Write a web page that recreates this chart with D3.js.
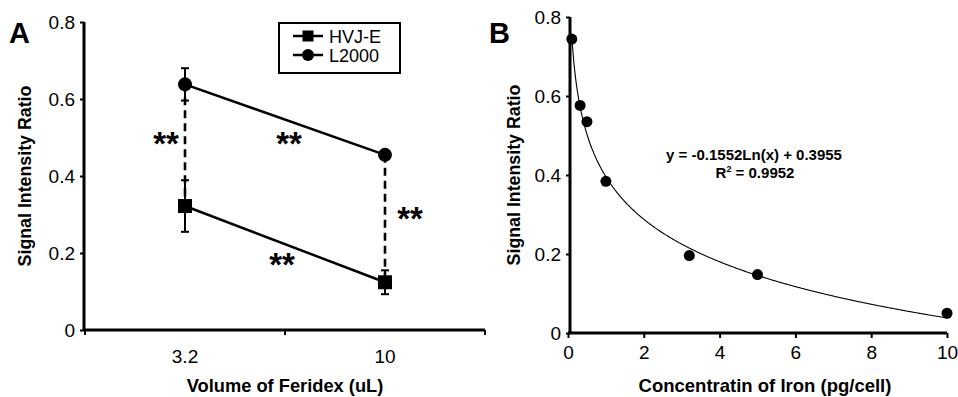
<!DOCTYPE html>
<html><head><meta charset="utf-8">
<script src="https://cdn.jsdelivr.net/npm/d3@7"></script>
<style>body{margin:0;background:#fff}svg{display:block;font-family:"Liberation Sans",Arial,sans-serif}</style>
</head><body>
<svg id="c" width="958" height="397"></svg>
<script>
// Panel A data
const categoriesA = ["3.2", "10"];
const hvje = [0.322, 0.124];
const hvjeErr = [0.067, 0.031];
const l2000 = [0.638, 0.455];
const l2000Err = [0.042, 0.008];
const yTicksA = [0, 0.2, 0.4, 0.6, 0.8];
// Panel B data
const ironX = [0.1, 0.32, 0.5, 1, 3.2, 5, 10];
const ironY = [0.744, 0.576, 0.535, 0.384, 0.196, 0.148, 0.050];
const xTicksB = [0, 2, 4, 6, 8, 10];
const yTicksB = [0, 0.2, 0.4, 0.6, 0.8];
const fitCoef = [-0.1552, 0.3955];

const svg = d3.select("#c");
const TICKFS = 19;

// ---------- Panel A ----------
const xA = d3.scaleBand().domain(categoriesA).range([85, 485]);
const cx = c => xA(c) + xA.bandwidth() / 2;
const yA = d3.scaleLinear().domain([0, 0.8]).range([330, 22]);
const gA = svg.append("g");

function drawAxes(g, y, yT, xLine) {
  const ya = g.append("g").attr("transform", `translate(${xLine},0)`)
    .call(d3.axisLeft(y).tickValues(yT).tickSize(4).tickPadding(5).tickFormat(d => d === 0 ? "0" : d3.format(".1f")(d)));
  ya.select(".domain").attr("d", `M0,${y(0.8)}V${y(0)}`).attr("stroke-width", 3);
  ya.selectAll(".tick line").attr("stroke-width", 2);
  ya.selectAll("text").attr("font-size", TICKFS).attr("fill", "#000").attr("font-family", "Liberation Sans, Arial");
  return ya;
}

drawAxes(gA, yA, yTicksA, 84);
const xaA = gA.append("g").attr("transform", `translate(0,${yA(0)})`)
  .call(d3.axisBottom(xA).tickSize(0).tickPadding(20));
xaA.select(".domain").attr("d", `M84,0H485`).attr("stroke-width", 3);
xaA.selectAll("text").attr("font-size", TICKFS).attr("fill", "#000").attr("font-family", "Liberation Sans, Arial");
// band boundary ticks
gA.append("g").selectAll("line").data([xA(categoriesA[0]), xA(categoriesA[1]), xA.range()[1]]).join("line")
  .attr("x1", d => d).attr("x2", d => d).attr("y1", yA(0)).attr("y2", yA(0) + 5)
  .attr("stroke", "#000").attr("stroke-width", 2);

// dashed connectors
gA.selectAll(".dash").data(categoriesA).join("line")
  .attr("x1", cx).attr("x2", cx)
  .attr("y1", (d, i) => yA(l2000[i])).attr("y2", (d, i) => yA(hvje[i]))
  .attr("stroke", "#000").attr("stroke-width", 2.6).attr("stroke-dasharray", "8,5");

const lineA = d3.line().x((d, i) => cx(categoriesA[i])).y(d => yA(d));
[hvje, l2000].forEach(s => {
  gA.append("path").attr("d", lineA(s)).attr("fill", "none").attr("stroke", "#000").attr("stroke-width", 2.5);
});
function errBars(vals, errs) {
  const g = gA.append("g").attr("stroke", "#000").attr("stroke-width", 2);
  categoriesA.forEach((c, i) => {
    const x = cx(c), t = yA(vals[i] + errs[i]), b = yA(vals[i] - errs[i]);
    g.append("line").attr("x1", x).attr("x2", x).attr("y1", t).attr("y2", b);
    g.append("line").attr("x1", x - 4).attr("x2", x + 4).attr("y1", t).attr("y2", t);
    g.append("line").attr("x1", x - 4).attr("x2", x + 4).attr("y1", b).attr("y2", b);
  });
}
errBars(hvje, hvjeErr);
errBars(l2000, l2000Err);
gA.selectAll(".sq").data(hvje).join("rect")
  .attr("x", (d, i) => cx(categoriesA[i]) - 7).attr("y", d => yA(d) - 7)
  .attr("width", 14).attr("height", 14).attr("fill", "#000");
gA.selectAll(".ci").data(l2000).join("circle")
  .attr("cx", (d, i) => cx(categoriesA[i])).attr("cy", d => yA(d)).attr("r", 7).attr("fill", "#000");

// significance stars
const stars = [
  { x: cx("3.2") - 19, v: 0.503 },
  { x: (cx("3.2") + cx("10")) / 2 + 4, v: 0.503 },
  { x: cx("10") + 25, v: 0.310 },
  { x: (cx("3.2") + cx("10")) / 2 - 3, v: 0.190 }
];
gA.selectAll(".star").data(stars).join("text")
  .attr("x", d => d.x).attr("y", d => yA(d.v) + 19)
  .attr("text-anchor", "middle").attr("font-size", 33).attr("font-weight", "bold").text("**");

// legend
const lg = gA.append("g");
lg.append("rect").attr("x", 279).attr("y", 23).attr("width", 121).attr("height", 50)
  .attr("fill", "#fff").attr("stroke", "#000").attr("stroke-width", 2);
const legItems = ["HVJ-E", "L2000"];
legItems.forEach((name, i) => {
  const yy = 36 + i * 19;
  lg.append("line").attr("x1", 293).attr("x2", 323).attr("y1", yy).attr("y2", yy).attr("stroke", "#000").attr("stroke-width", 2.5);
  if (i === 0) lg.append("rect").attr("x", 302.5).attr("y", yy - 5.5).attr("width", 11).attr("height", 11);
  else lg.append("circle").attr("cx", 308).attr("cy", yy).attr("r", 6);
  lg.append("text").attr("x", 329).attr("y", yy + 6.5).attr("font-size", 18).text(name);
});

// titles
gA.append("text").attr("transform", `translate(31,${(yA(0) + yA(0.8)) / 2}) rotate(-90)`)
  .attr("text-anchor", "middle").attr("font-size", 17.8).attr("font-weight", "bold").text("Signal Intensity Ratio");
gA.append("text").attr("x", 285).attr("y", 392).attr("text-anchor", "middle")
  .attr("font-size", 18.3).attr("font-weight", "bold").text("Volume of Feridex (uL)");
gA.append("text").attr("x", 9).attr("y", 43).attr("font-size", 29).attr("font-weight", "bold").text("A");

// ---------- Panel B ----------
const xB = d3.scaleLinear().domain([0, 10]).range([568, 947]);
const yB = d3.scaleLinear().domain([0, 0.8]).range([333, 17]);
const gB = svg.append("g");
drawAxes(gB, yB, yTicksB, 570);
const xaB = gB.append("g").attr("transform", `translate(0,${yB(0)})`)
  .call(d3.axisBottom(xB).tickValues(xTicksB).tickSize(5).tickPadding(8));
xaB.select(".domain").attr("d", `M568,0H947`).attr("stroke-width", 3);
xaB.selectAll(".tick line").attr("stroke-width", 2);
xaB.selectAll("text").attr("font-size", TICKFS).attr("fill", "#000").attr("font-family", "Liberation Sans, Arial");

const fitPts = d3.range(0.1, 10.0001, 0.02).map(x => [x, fitCoef[0] * Math.log(x) + fitCoef[1]]);
gB.append("path").attr("d", d3.line().x(d => xB(d[0])).y(d => yB(d[1]))(fitPts))
  .attr("fill", "none").attr("stroke", "#000").attr("stroke-width", 1.1);
gB.selectAll(".pt").data(ironX).join("circle")
  .attr("cx", d => xB(d)).attr("cy", (d, i) => yB(ironY[i])).attr("r", 5.5).attr("fill", "#000");

gB.append("text").attr("x", 754).attr("y", 160).attr("text-anchor", "middle")
  .attr("font-size", 15).attr("font-weight", "bold")
  .text(`y = ${fitCoef[0]}Ln(x) + ${fitCoef[1]}`);
const r2 = gB.append("text").attr("x", 755).attr("y", 178).attr("text-anchor", "middle")
  .attr("font-size", 15).attr("font-weight", "bold");
r2.append("tspan").text("R");
r2.append("tspan").attr("font-size", 9).attr("dy", -6).text("2");
r2.append("tspan").attr("dy", 6).text(" = 0.9952");

gB.append("text").attr("transform", `translate(520,${(yB(0) + yB(0.8)) / 2}) rotate(-90)`)
  .attr("text-anchor", "middle").attr("font-size", 17.8).attr("font-weight", "bold").text("Signal Intensity Ratio");
gB.append("text").attr("x", 765).attr("y", 392).attr("text-anchor", "middle")
  .attr("font-size", 18.5).attr("font-weight", "bold").text("Concentratin of Iron (pg/cell)");
gB.append("text").attr("x", 489).attr("y", 43).attr("font-size", 29).attr("font-weight", "bold").text("B");
</script>
</body></html>
